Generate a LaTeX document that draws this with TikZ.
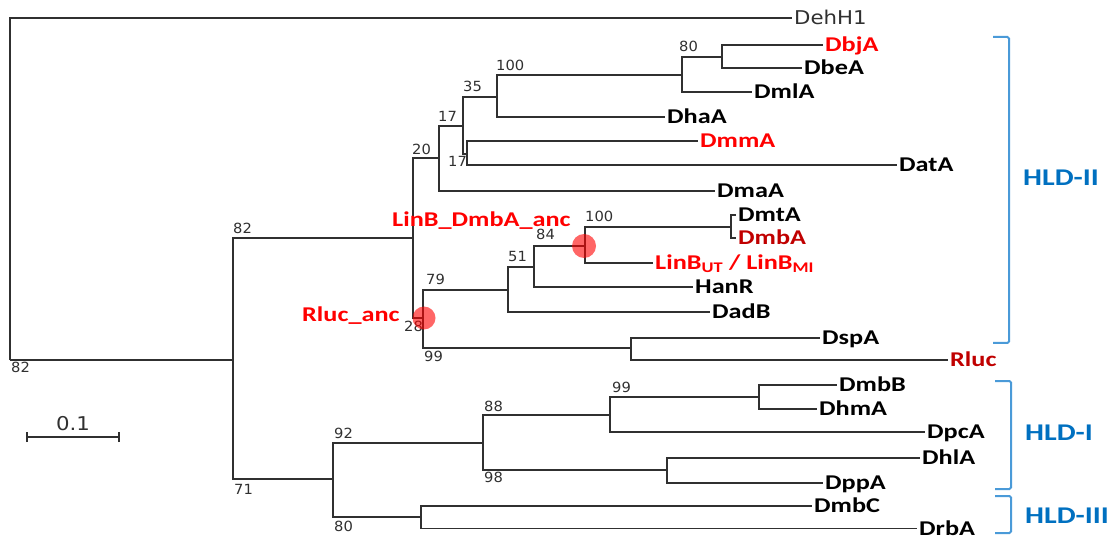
\documentclass[tikz,border=0pt]{standalone}
\usepackage{fontspec}
\setmainfont{DejaVu Sans}
\newfontfamily\leaffont[FakeStretch=1.25]{Carlito}
\newfontfamily\numfont[FakeStretch=1.05]{DejaVu Sans}
\newfontfamily\widefont[FakeStretch=1.12]{DejaVu Sans}

\definecolor{branch}{HTML}{303030}
\definecolor{hot}{HTML}{FF0000}
\definecolor{deep}{HTML}{C00000}
\definecolor{clade}{HTML}{0070C0}
\definecolor{bracket}{HTML}{4A9AD8}

\tikzset{
  edge/.style={draw=branch, line width=1.5pt},
  leaf/.style={font=\leaffont\bfseries\fontsize{21}{21}\selectfont, inner xsep=2pt, inner ysep=0pt,
    text height=13.5pt, text depth=0pt, anchor=west, text=black},
  outgroup/.style={leaf, font=\widefont\fontsize{19}{19}\selectfont, text=branch},
  boot/.style={font=\numfont\fontsize{14}{14}\selectfont, text=branch, inner sep=0pt,
    text height=10pt, text depth=0pt, anchor=west},
  clade label/.style={font=\leaffont\bfseries\fontsize{24}{24}\selectfont, text=clade, inner sep=0pt,
    text height=15.5pt, text depth=0pt, anchor=west},
  bracket line/.style={draw=bracket, line width=2pt, rounded corners=1.5pt},
  marker/.style={fill=hot, opacity=0.6},
}

\begin{document}
\begin{tikzpicture}[x=1pt, y=-1pt]
\useasboundingbox (0,0) rectangle (1114,537);

% internal nodes
\coordinate (root) at (10,360);
\coordinate (n233) at (233,360);
\coordinate (n413) at (413,238);
\coordinate (n439) at (439,158);
\coordinate (n463) at (463,126);
\coordinate (n497) at (497,97);
\coordinate (n682) at (682,75);
\coordinate (n722) at (722,57);
\coordinate (n467) at (467,154);
\coordinate (n423) at (423,318);
\coordinate (n508) at (508,290);
\coordinate (n534) at (534,267);
\coordinate (n585) at (585,246);
\coordinate (n731) at (731,227);
\coordinate (n631) at (631,348);
\coordinate (n333) at (333,479);
\coordinate (n483) at (483,443);
\coordinate (n610) at (610,415);
\coordinate (n759) at (759,397);
\coordinate (n667) at (667,470);
\coordinate (n421) at (421,517);

% leaves
\node[outgroup] (dehh1) at (792,18) {DehH1};
\node[leaf, text=hot] (dbja) at (823,45) {DbjA};
\node[leaf] (dbea) at (802,68) {DbeA};
\node[leaf] (dmla) at (752,92) {DmlA};
\node[leaf] (dhaa) at (665,117) {DhaA};
\node[leaf, text=hot] (dmma) at (698,141) {DmmA};
\node[leaf] (data) at (897,165) {DatA};
\node[leaf] (dmaa) at (715,191) {DmaA};
\node[leaf] (dmta) at (736,215) {DmtA};
\node[leaf, text=deep] (dmba) at (736,238) {DmbA};
\node[leaf, text=hot] (linb) at (653,263) {LinB\textsubscript{UT} / LinB\textsubscript{MI}};
\node[leaf] (hanr) at (693,287) {HanR};
\node[leaf] (dadb) at (710,312) {DadB};
\node[leaf] (dspa) at (820,338) {DspA};
\node[leaf, text=deep] (rluc) at (948,360) {Rluc};
\node[leaf] (dmbb) at (837,385) {DmbB};
\node[leaf] (dhma) at (817,409) {DhmA};
\node[leaf] (dpca) at (925,432) {DpcA};
\node[leaf] (dhla) at (920,458) {DhlA};
\node[leaf] (dppa) at (823,483) {DppA};
\node[leaf] (dmbc) at (812,506) {DmbC};
\node[leaf] (drba) at (917,528.5) {DrbA};

% branches
\draw[edge] (root) |- (dehh1.west);
\draw[edge] (root) |- (n233);
\draw[edge] (n233) |- (n413);
\draw[edge] (n233) |- (n333);
\draw[edge] (n413) |- (n439);
\draw[edge] (n413) |- (n423);
\draw[edge] (n439) |- (n463);
\draw[edge] (n439) |- (dmaa.west);
\draw[edge] (n463) |- (n497);
\draw[edge] (n463) |- (n467);
\draw[edge] (n497) |- (n682);
\draw[edge] (n497) |- (dhaa.west);
\draw[edge] (n682) |- (n722);
\draw[edge] (n682) |- (dmla.west);
\draw[edge] (n722) |- (dbja.west);
\draw[edge] (n722) |- (dbea.west);
\draw[edge] (n467) |- (dmma.west);
\draw[edge] (n467) |- (data.west);
\draw[edge] (n423) |- (n508);
\draw[edge] (n423) |- (n631);
\draw[edge] (n508) |- (n534);
\draw[edge] (n508) |- (dadb.west);
\draw[edge] (n534) |- (n585);
\draw[edge] (n534) |- (hanr.west);
\draw[edge] (n585) |- (n731);
\draw[edge] (n585) |- (linb.west);
\draw[edge] (n731) |- (dmta.west);
\draw[edge] (n731) |- (dmba.west);
\draw[edge] (n631) |- (dspa.west);
\draw[edge] (n631) |- (rluc.west);
\draw[edge] (n333) |- (n483);
\draw[edge] (n333) |- (n421);
\draw[edge] (n483) |- (n610);
\draw[edge] (n483) |- (n667);
\draw[edge] (n610) |- (n759);
\draw[edge] (n610) |- (dpca.west);
\draw[edge] (n759) |- (dmbb.west);
\draw[edge] (n759) |- (dhma.west);
\draw[edge] (n667) |- (dhla.west);
\draw[edge] (n667) |- (dppa.west);
\draw[edge] (n421) |- (dmbc.west);
\draw[edge] (n421) |- (drba.west);

% bootstrap values
\node[boot] (b01) at (11,368) {82};
\node[boot] (b02) at (233,229) {82};
\node[boot] (b03) at (234,489) {71};
\node[boot] (b04) at (412,150) {20};
\node[boot] (b05) at (438,117) {17};
\node[boot] (b06) at (463,87) {35};
\node[boot] (b07) at (496,66) {100};
\node[boot] (b08) at (679,47) {80};
\node[boot] (b09) at (448,162) {17};
\node[boot] (b10) at (426,280) {79};
\node[boot] (b11) at (404,327) {28};
\node[boot] (b12) at (424,356) {99};
\node[boot] (b13) at (508,257) {51};
\node[boot] (b14) at (536,235) {84};
\node[boot] (b15) at (585,217) {100};
\node[boot] (b16) at (334,433) {92};
\node[boot] (b17) at (334,526) {80};
\node[boot] (b18) at (484,406) {88};
\node[boot] (b19) at (484,477) {98};
\node[boot] (b20) at (612,387) {99};

% ancestral nodes
\fill[marker] (424,318) circle (11.5);
\fill[marker] (584,246) circle (12);
\node[leaf, text=hot, inner xsep=0pt] (anc1) at (392,220) {LinB\_DmbA\_anc};
\node[leaf, text=hot, inner xsep=0pt] (anc2) at (302,315) {Rluc\_anc};

% clade brackets
\draw[bracket line] (993,37) -- (1009,37) -- (1009,343) -- (993,343);
\draw[bracket line] (995,381) -- (1011,381) -- (1011,489) -- (995,489);
\draw[bracket line] (995,496) -- (1011,496) -- (1011,533) -- (995,533);
\node[clade label] (hld2) at (1023,178) {HLD-II};
\node[clade label] (hld1) at (1025,433) {HLD-I};
\node[clade label] (hld3) at (1025,516) {HLD-III};

% scale bar
\coordinate (sbl) at (27,437);
\coordinate (sbr) at (119,437);
\draw[edge] (sbl) -- (sbr);
\draw[edge] ([yshift=-5pt]sbl) -- ([yshift=5pt]sbl);
\draw[edge] ([yshift=-5pt]sbr) -- ([yshift=5pt]sbr);
\node[font=\widefont\fontsize{19}{19}\selectfont, text=branch, inner sep=0pt] (sbtext) at (73,424) {0.1};
\end{tikzpicture}
\end{document}
